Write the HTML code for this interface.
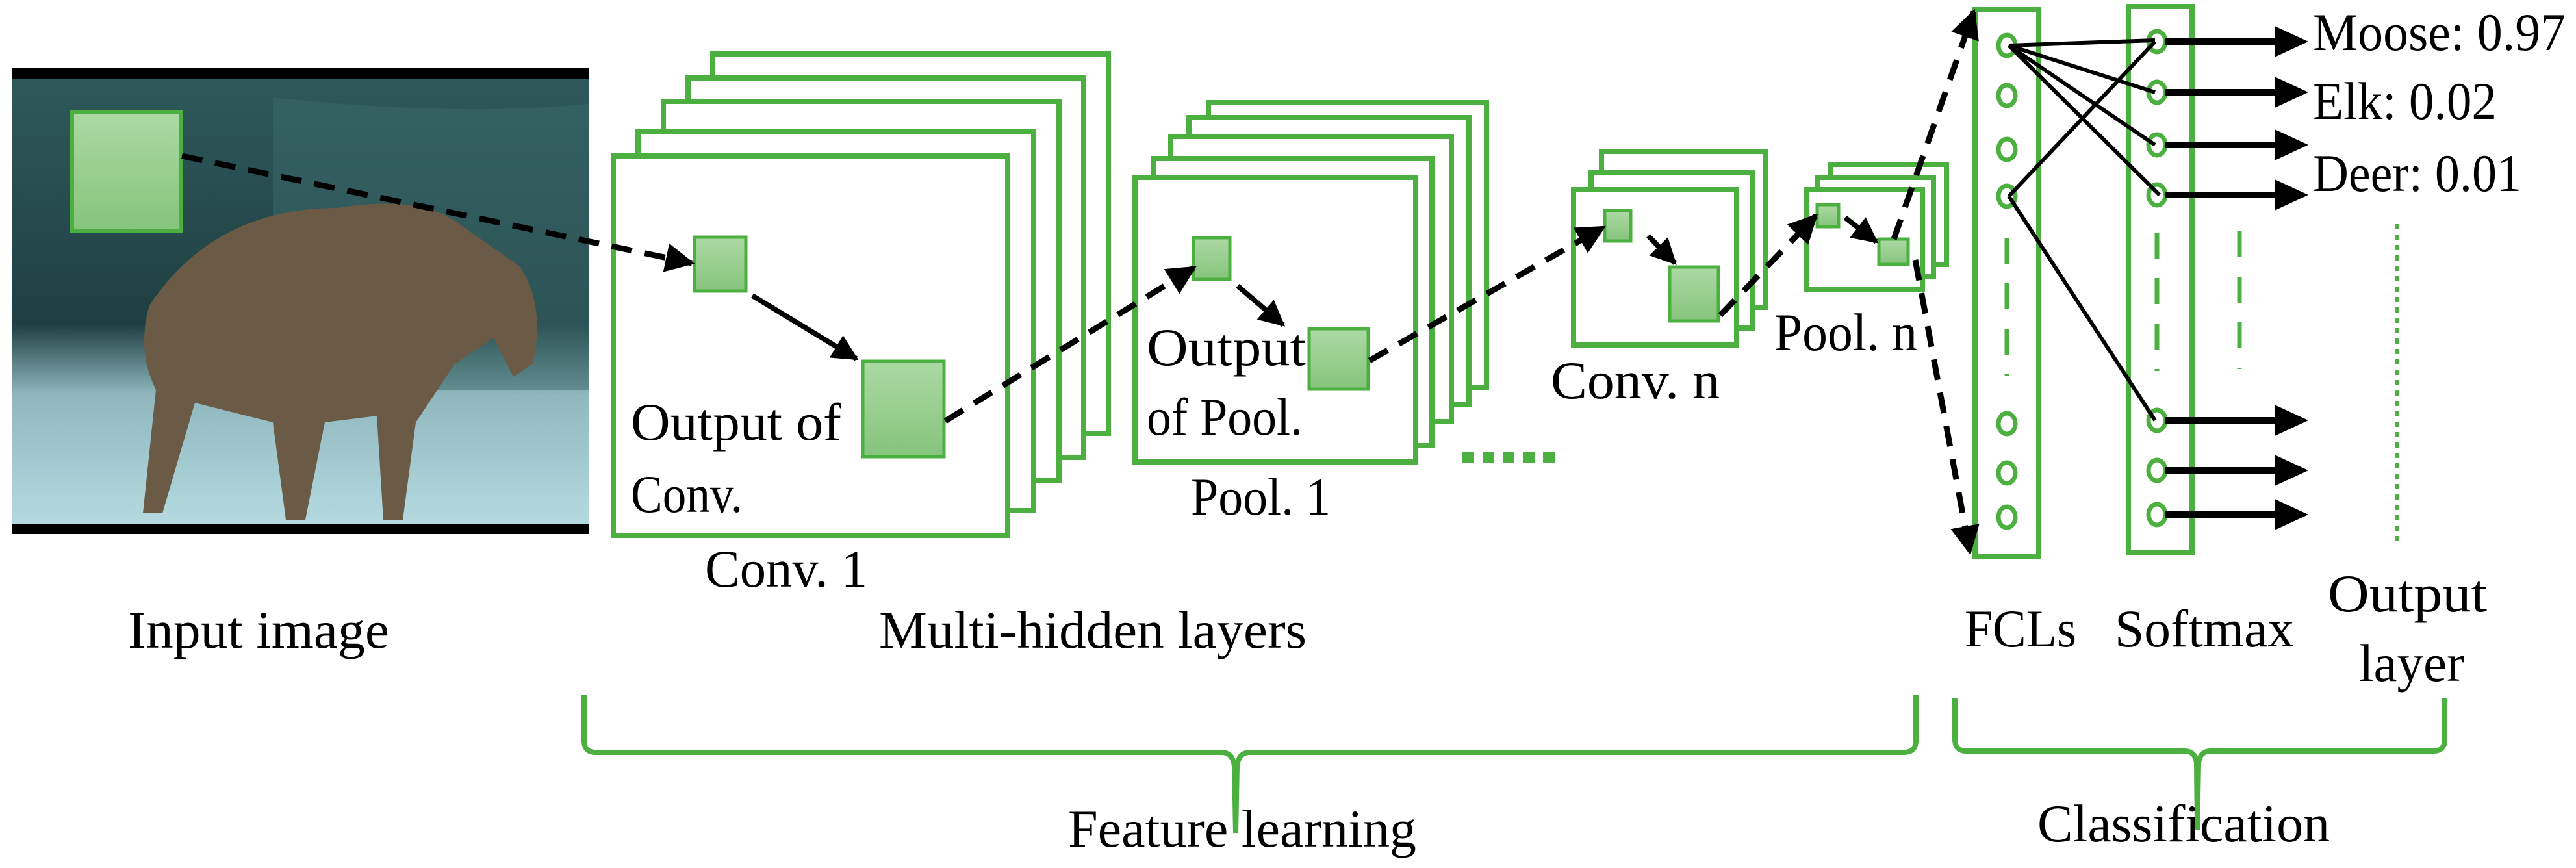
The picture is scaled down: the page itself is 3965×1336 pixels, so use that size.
<!DOCTYPE html>
<html><head><meta charset="utf-8"><style>
html,body{margin:0;padding:0;background:#fff;}
svg{display:block;}
text{font-family:"Liberation Serif",serif;font-size:82px;fill:#000;}
</style></head><body>
<svg width="3965" height="1336" viewBox="0 0 3965 1336" xmlns="http://www.w3.org/2000/svg">
<defs>
<linearGradient id="sq" x1="0" y1="0" x2="0" y2="1"><stop offset="0" stop-color="#acd9a4"/><stop offset="1" stop-color="#86c47c"/></linearGradient>
<linearGradient id="bg" x1="0" y1="0" x2="0" y2="1"><stop offset="0" stop-color="#2f5a5c"/><stop offset="0.55" stop-color="#1f3f42"/><stop offset="0.7" stop-color="#8fb7bd"/><stop offset="1" stop-color="#b7dde3"/></linearGradient>
<marker id="ah" viewBox="0 0 10 10" refX="9" refY="5" markerWidth="5" markerHeight="5" orient="auto" markerUnits="strokeWidth"><path d="M0,0 L10,5 L0,10 z" fill="#000"/></marker>
</defs>
<rect x="19" y="105" width="887" height="717" fill="url(#bg)"/>
<rect x="19" y="105" width="887" height="16" fill="#000"/>
<rect x="19" y="806" width="887" height="16" fill="#000"/>
<path d="M420,150 Q700,180 906,160 L906,600 L420,600 z" fill="#3b6a6a" opacity="0.5"/>
<path d="M230,470 Q330,320 520,320 Q640,300 700,340 L800,410 Q840,470 820,560 L790,580 L760,520 L700,560 L640,650 L620,800 L590,800 L580,640 L500,650 L470,800 L440,800 L420,650 L300,620 L250,790 L220,790 L240,600 Q210,540 230,470 z" fill="#6b5a46"/>
<rect x="111" y="173" width="167" height="182" fill="url(#sq)" stroke="#4cb040" stroke-width="6"/>
<g fill="#fff" stroke="#4cb040" stroke-width="8">
<rect x="1097" y="83" width="609" height="584"/>
<rect x="1059" y="120" width="609" height="584"/>
<rect x="1021" y="156" width="609" height="584"/>
<rect x="982" y="202" width="609" height="584"/>
<rect x="944" y="240" width="607" height="584"/>
<rect x="1860" y="158" width="428" height="438"/>
<rect x="1830" y="181" width="431" height="441"/>
<rect x="1802" y="210" width="432" height="439"/>
<rect x="1776" y="244" width="428" height="442"/>
<rect x="1747" y="273" width="432" height="438"/>
<rect x="2465" y="233" width="252" height="240"/>
<rect x="2449" y="266" width="249" height="239"/>
<rect x="2422" y="292" width="251" height="239"/>
<rect x="2817" y="253" width="179" height="154"/>
<rect x="2798" y="273" width="178" height="153"/>
<rect x="2781" y="292" width="178" height="153"/>
<rect x="3040" y="15" width="98" height="841"/>
<rect x="3276" y="10" width="98" height="840"/>
</g>
<g fill="url(#sq)" stroke="#4cb040" stroke-width="5">
<rect x="1069" y="365" width="79" height="83"/>
<rect x="1328" y="556" width="125" height="147"/>
<rect x="1837" y="366" width="56" height="64"/>
<rect x="2015" y="506" width="91" height="93"/>
<rect x="2470" y="324" width="40" height="47"/>
<rect x="2570" y="411" width="75" height="83"/>
<rect x="2797" y="315" width="33" height="34"/>
<rect x="2892" y="368" width="45" height="39"/>
</g>
<g fill="#fff" stroke="#4cb040" stroke-width="7">
<ellipse cx="3089" cy="70" rx="13" ry="16"/><ellipse cx="3089" cy="147" rx="13" ry="16"/><ellipse cx="3089" cy="230" rx="13" ry="16"/><ellipse cx="3089" cy="302" rx="13" ry="16"/>
<ellipse cx="3089" cy="652" rx="13" ry="16"/><ellipse cx="3089" cy="728" rx="13" ry="16"/><ellipse cx="3089" cy="796" rx="13" ry="16"/>
<ellipse cx="3320" cy="64" rx="13" ry="16"/><ellipse cx="3320" cy="142" rx="13" ry="16"/><ellipse cx="3320" cy="223" rx="13" ry="16"/><ellipse cx="3320" cy="300" rx="13" ry="16"/>
<ellipse cx="3320" cy="647" rx="13" ry="16"/><ellipse cx="3320" cy="724" rx="13" ry="16"/><ellipse cx="3320" cy="792" rx="13" ry="16"/>
</g>
<g stroke="#4cb040" stroke-width="7" stroke-dasharray="40 30">
<line x1="3089" y1="366" x2="3089" y2="579"/>
<line x1="3320" y1="358" x2="3320" y2="571"/>
<line x1="3447" y1="356" x2="3447" y2="568"/>
</g>
<line x1="3689" y1="345" x2="3689" y2="839" stroke="#4cb040" stroke-width="6" stroke-dasharray="8 8"/>
<line x1="2251" y1="704" x2="2398" y2="704" stroke="#4cb040" stroke-width="17" stroke-dasharray="18 13"/>
<g stroke="#000" stroke-width="9" stroke-dasharray="32 20" fill="none" marker-end="url(#ah)">
<line x1="280" y1="240" x2="1065" y2="405"/>
<line x1="1455" y1="648" x2="1838" y2="412"/>
<line x1="2108" y1="555" x2="2468" y2="350"/>
<line x1="2648" y1="485" x2="2795" y2="332"/>
<line x1="2915" y1="368" x2="3038" y2="18"/>
<line x1="2948" y1="400" x2="3032" y2="850"/>
</g>
<g stroke="#000" stroke-width="8" marker-end="url(#ah)">
<line x1="1158" y1="455" x2="1318" y2="552"/>
<line x1="1905" y1="440" x2="1975" y2="500"/>
<line x1="2537" y1="363" x2="2578" y2="405"/>
<line x1="2840" y1="335" x2="2888" y2="372"/>
</g>
<g stroke="#000" stroke-width="6">
<line x1="3092" y1="70" x2="3317" y2="62"/>
<line x1="3092" y1="70" x2="3317" y2="142"/>
<line x1="3092" y1="70" x2="3317" y2="223"/>
<line x1="3092" y1="70" x2="3324" y2="300"/>
<line x1="3092" y1="302" x2="3317" y2="64"/>
<line x1="3092" y1="302" x2="3317" y2="647"/>
</g>
<g stroke="#000" stroke-width="10">
<line x1="3333" y1="64" x2="3505" y2="64"/><line x1="3333" y1="142" x2="3505" y2="142"/><line x1="3333" y1="223" x2="3505" y2="223"/><line x1="3333" y1="300" x2="3505" y2="300"/>
<line x1="3333" y1="647" x2="3505" y2="647"/><line x1="3333" y1="724" x2="3505" y2="724"/><line x1="3333" y1="792" x2="3505" y2="792"/>
</g>
<g fill="#000">
<path d="M3501,40 L3553,64 L3501,88z"/><path d="M3501,118 L3553,142 L3501,166z"/><path d="M3501,199 L3553,223 L3501,247z"/><path d="M3501,276 L3553,300 L3501,324z"/>
<path d="M3501,623 L3553,647 L3501,671z"/><path d="M3501,700 L3553,724 L3501,748z"/><path d="M3501,768 L3553,792 L3501,816z"/>
</g>
<g fill="none" stroke="#4cb040" stroke-width="8">
<path d="M899,1069 L899,1140 Q899,1158 917,1158 L1880,1158 Q1898,1158 1900,1180 L1902,1282 L1904,1180 Q1906,1158 1924,1158 L2930,1158 Q2949,1158 2949,1140 L2949,1069"/>
<path d="M3009,1075 L3009,1138 Q3009,1156 3027,1156 L3362,1156 Q3380,1156 3381,1176 L3382,1278 L3384,1176 Q3385,1156 3403,1156 L3745,1156 Q3763,1156 3763,1138 L3763,1075"/>
</g>
<g lengthAdjust="spacingAndGlyphs">
<text x="971" y="677" textLength="324" lengthAdjust="spacingAndGlyphs">Output of</text>
<text x="971" y="788" textLength="172" lengthAdjust="spacingAndGlyphs">Conv.</text>
<text x="1085" y="903" textLength="250" lengthAdjust="spacingAndGlyphs">Conv. 1</text>
<text x="1765" y="562" textLength="245" lengthAdjust="spacingAndGlyphs">Output</text>
<text x="1765" y="669" textLength="240" lengthAdjust="spacingAndGlyphs">of Pool.</text>
<text x="1833" y="792" textLength="215" lengthAdjust="spacingAndGlyphs">Pool. 1</text>
<text x="2387" y="613" textLength="260" lengthAdjust="spacingAndGlyphs">Conv. n</text>
<text x="2731" y="539" textLength="220" lengthAdjust="spacingAndGlyphs">Pool. n</text>
<text x="197" y="997" textLength="402" lengthAdjust="spacingAndGlyphs">Input image</text>
<text x="1353" y="997" textLength="658" lengthAdjust="spacingAndGlyphs">Multi-hidden layers</text>
<text x="3024" y="995" textLength="172" lengthAdjust="spacingAndGlyphs">FCLs</text>
<text x="3255" y="995" textLength="276" lengthAdjust="spacingAndGlyphs">Softmax</text>
<text x="3583" y="941" textLength="245" lengthAdjust="spacingAndGlyphs">Output</text>
<text x="3631" y="1048" textLength="162" lengthAdjust="spacingAndGlyphs">layer</text>
<text x="3560" y="77" textLength="389" lengthAdjust="spacingAndGlyphs">Moose: 0.97</text>
<text x="3560" y="183" textLength="283" lengthAdjust="spacingAndGlyphs">Elk: 0.02</text>
<text x="3560" y="294" textLength="321" lengthAdjust="spacingAndGlyphs">Deer: 0.01</text>
<text x="1644" y="1303" textLength="536" lengthAdjust="spacingAndGlyphs">Feature learning</text>
<text x="3136" y="1295" textLength="450" lengthAdjust="spacingAndGlyphs">Classification</text>
</g>
</svg>
</body></html>
